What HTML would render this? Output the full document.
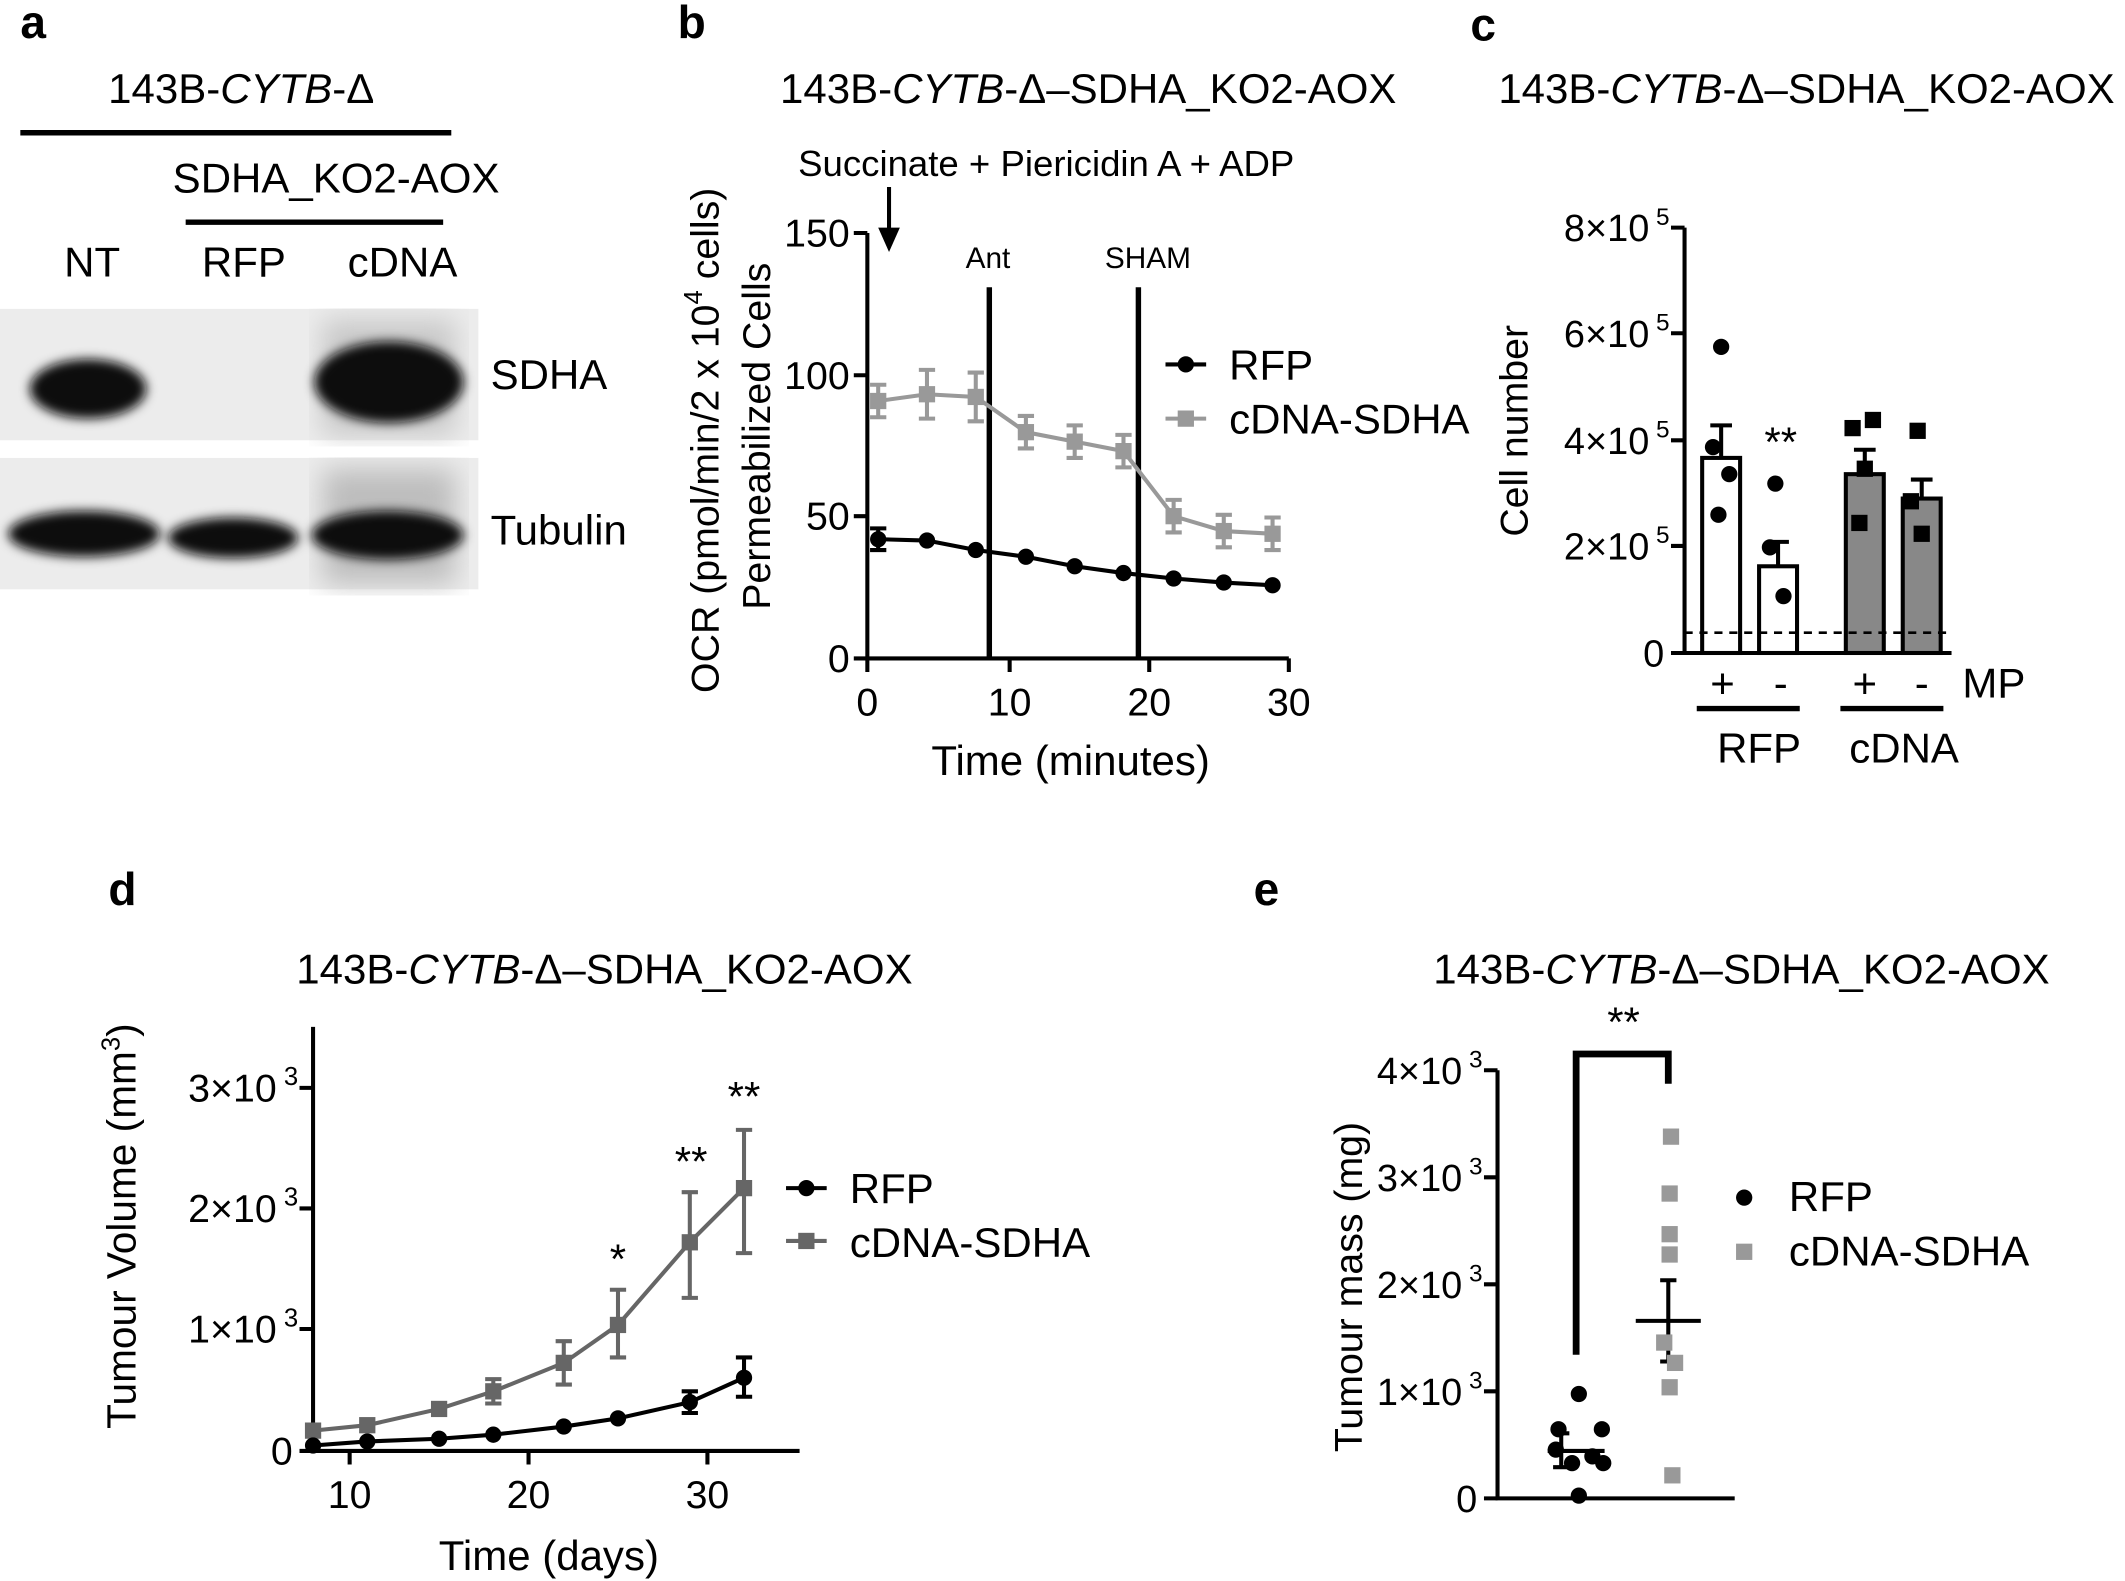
<!DOCTYPE html>
<html><head><meta charset="utf-8"><style>
html,body{margin:0;padding:0;background:#fff;}
svg{display:block;}
text{font-family:"Liberation Sans",Arial,sans-serif;fill:#000;}
</style></head><body>
<svg width="2125" height="1581" viewBox="0 0 1568 1167" preserveAspectRatio="none" xmlns="http://www.w3.org/2000/svg">
<defs><filter id="bl" x="-20%" y="-40%" width="140%" height="180%"><feGaussianBlur stdDeviation="4"/></filter>
<filter id="bl2"><feGaussianBlur stdDeviation="10"/></filter></defs>
<!-- panel letters -->
<g font-size="34" font-weight="bold">
<text x="15" y="28">a</text><text x="500" y="28">b</text><text x="1085" y="30">c</text>
<text x="80" y="668">d</text><text x="925" y="668">e</text></g>

<!-- panel a -->
<g font-size="31">
<text x="178" y="76" text-anchor="middle">143B-<tspan font-style="italic">CYTB</tspan>-Δ</text>
<line x1="15" y1="98" x2="333" y2="98" stroke="#000" stroke-width="4"/>
<text x="248" y="142" text-anchor="middle">SDHA_KO2-AOX</text>
<line x1="137" y1="164" x2="327" y2="164" stroke="#000" stroke-width="4"/>
<text x="68" y="204" text-anchor="middle">NT</text>
<text x="180" y="204" text-anchor="middle">RFP</text>
<text x="297" y="204" text-anchor="middle">cDNA</text>
<text x="362" y="287">SDHA</text>
<text x="362" y="402">Tubulin</text>
</g>
<rect x="0" y="228" width="353" height="97" fill="#ececec"/>
<rect x="0" y="338" width="353" height="97" fill="#ececec"/>
<rect x="238" y="236" width="98" height="85" fill="#c8c8c8" filter="url(#bl2)"/>
<rect x="238" y="346" width="98" height="85" fill="#bdbdbd" filter="url(#bl2)"/>
<g filter="url(#bl)" fill="#111">
<ellipse cx="65" cy="287" rx="43" ry="22"/>
<ellipse cx="287" cy="282" rx="55" ry="30"/>
<ellipse cx="62" cy="394" rx="56" ry="17"/>
<ellipse cx="172" cy="397" rx="48" ry="15"/>
<ellipse cx="286" cy="395" rx="56" ry="18"/>
</g>

<!-- panel b -->
<g font-size="31">
<text x="803" y="76" text-anchor="middle">143B-<tspan font-style="italic">CYTB</tspan>-Δ–SDHA_KO2-AOX</text>
<text x="772" y="130" text-anchor="middle" font-size="27">Succinate + Piericidin A + ADP</text>
<text x="729" y="198" text-anchor="middle" font-size="22">Ant</text>
<text x="847" y="198" text-anchor="middle" font-size="22">SHAM</text>
<text x="790" y="572" text-anchor="middle">Time (minutes)</text>
<text transform="translate(530,325) rotate(-90)" text-anchor="middle" font-size="29">OCR (pmol/min/2 x 10<tspan font-size="19" dy="-12">4</tspan><tspan dy="12"> cells)</tspan></text>
<text transform="translate(568,322) rotate(-90)" text-anchor="middle" font-size="29">Permeabilized Cells</text>
</g>
<line x1="656" y1="138" x2="656" y2="172" stroke="#000" stroke-width="3"/>
<polygon points="648,168 664,168 656,186" fill="#000"/>
<g stroke="#000" stroke-width="3" fill="none">
<path d="M640,172 V486 H951"/>
<path d="M630,172H640M630,277H640M630,381H640M630,486H640M640,486V496M745,486V496M848,486V496M951,486V496"/>
<line x1="730" y1="212" x2="730" y2="486" stroke-width="4"/>
<line x1="840" y1="212" x2="840" y2="486" stroke-width="4"/>
</g>
<g font-size="29" text-anchor="end"><text x="627" y="182">150</text><text x="627" y="287">100</text><text x="627" y="391">50</text><text x="627" y="496">0</text></g>
<g font-size="29" text-anchor="middle"><text x="640" y="528">0</text><text x="745" y="528">10</text><text x="848" y="528">20</text><text x="951" y="528">30</text></g>
<g stroke="#999" stroke-width="3" fill="none">
<polyline points="648,296 684,291 720,293 757,319 793,326 829,333 866,381 903,392 939,394"/>
<path d="M648,284V308M684,273V309M720,275V311M757,307V331M793,314V338M829,321V345M866,369V393M903,380V404M939,382V406"/>
<path d="M642,284h12M642,308h12M678,273h12M678,309h12M714,275h12M714,311h12M751,307h12M751,331h12M787,314h12M787,338h12M823,321h12M823,345h12M860,369h12M860,393h12M897,380h12M897,404h12M933,382h12M933,406h12"/>
</g>
<g fill="#999"><rect x="642" y="290" width="12" height="12"/><rect x="678" y="285" width="12" height="12"/><rect x="714" y="287" width="12" height="12"/><rect x="751" y="313" width="12" height="12"/><rect x="787" y="320" width="12" height="12"/><rect x="823" y="327" width="12" height="12"/><rect x="860" y="375" width="12" height="12"/><rect x="897" y="386" width="12" height="12"/><rect x="933" y="388" width="12" height="12"/></g>
<g stroke="#000" stroke-width="3" fill="none"><polyline points="648,398 684,399 720,406 757,411 793,418 829,423 866,427 903,430 939,432"/><path d="M648,390V406M642,390h12M642,406h12"/></g>
<g fill="#000"><circle cx="648" cy="398" r="6"/><circle cx="684" cy="399" r="6"/><circle cx="720" cy="406" r="6"/><circle cx="757" cy="411" r="6"/><circle cx="793" cy="418" r="6"/><circle cx="829" cy="423" r="6"/><circle cx="866" cy="427" r="6"/><circle cx="903" cy="430" r="6"/><circle cx="939" cy="432" r="6"/></g>
<line x1="860" y1="269" x2="890" y2="269" stroke="#000" stroke-width="3"/><circle cx="875" cy="269" r="6"/>
<line x1="860" y1="309" x2="890" y2="309" stroke="#999" stroke-width="3"/><rect x="869" y="303" width="12" height="12" fill="#999"/>
<g font-size="31"><text x="907" y="280">RFP</text><text x="907" y="320">cDNA-SDHA</text></g>

<!-- panel c -->
<g font-size="31">
<text x="1333" y="76" text-anchor="middle">143B-<tspan font-style="italic">CYTB</tspan>-Δ–SDHA_KO2-AOX</text>
<text transform="translate(1127,318) rotate(-90)" text-anchor="middle" font-size="29">Cell number</text>
<g font-size="28">
<text x="1232" y="178" text-anchor="end">8×10<tspan font-size="18" dy="-12"> 5</tspan></text>
<text x="1232" y="256" text-anchor="end">6×10<tspan font-size="18" dy="-12"> 5</tspan></text>
<text x="1232" y="335" text-anchor="end">4×10<tspan font-size="18" dy="-12"> 5</tspan></text>
<text x="1232" y="413" text-anchor="end">2×10<tspan font-size="18" dy="-12"> 5</tspan></text>
<text x="1228" y="492" text-anchor="end">0</text>
</g>
<text x="1271" y="515" text-anchor="middle">+</text><text x="1314" y="515" text-anchor="middle">-</text>
<text x="1376" y="515" text-anchor="middle">+</text><text x="1418" y="515" text-anchor="middle">-</text>
<text x="1448" y="515">MP</text>
<text x="1298" y="563" text-anchor="middle">RFP</text><text x="1405" y="563" text-anchor="middle">cDNA</text>
<text x="1314" y="337" text-anchor="middle">**</text>
</g>
<g stroke="#000" stroke-width="3">
<path d="M1243,168V482H1440" fill="none"/>
<path d="M1233,168H1243M1233,246H1243M1233,325H1243M1233,403H1243M1233,482H1243"/>
<line x1="1252" y1="523" x2="1328" y2="523" stroke-width="4"/><line x1="1358" y1="523" x2="1434" y2="523" stroke-width="4"/>
<rect x="1256" y="338" width="28" height="144" fill="#fff"/>
<rect x="1298" y="418" width="28" height="64" fill="#fff"/>
<rect x="1362" y="350" width="28" height="132" fill="#888"/>
<rect x="1404" y="368" width="28" height="114" fill="#888"/>
<path d="M1270,314V338M1262,314h16M1312,400V418M1304,400h16M1376,332V350M1368,332h16M1418,354V368M1410,354h16" fill="none"/>
</g>
<line x1="1243" y1="467" x2="1440" y2="467" stroke="#000" stroke-width="2" stroke-dasharray="6,5"/>
<g fill="#000"><circle cx="1270" cy="256" r="6"/><circle cx="1264" cy="330" r="6"/><circle cx="1276" cy="350" r="6"/><circle cx="1268" cy="380" r="6"/><circle cx="1310" cy="357" r="6"/><circle cx="1306" cy="404" r="6"/><circle cx="1316" cy="440" r="6"/>
<rect x="1361" y="310" width="12" height="12"/><rect x="1376" y="304" width="12" height="12"/><rect x="1370" y="340" width="12" height="12"/><rect x="1366" y="380" width="12" height="12"/><rect x="1409" y="312" width="12" height="12"/><rect x="1404" y="364" width="12" height="12"/><rect x="1412" y="388" width="12" height="12"/></g>

<!-- panel d -->
<g font-size="31">
<text x="446" y="726" text-anchor="middle">143B-<tspan font-style="italic">CYTB</tspan>-Δ–SDHA_KO2-AOX</text>
<text transform="translate(100,905) rotate(-90)" text-anchor="middle" font-size="30">Tumour Volume (mm<tspan font-size="19" dy="-12">3</tspan><tspan dy="12">)</tspan></text>
<g font-size="29">
<text x="220" y="813" text-anchor="end">3×10<tspan font-size="19" dy="-12"> 3</tspan></text>
<text x="220" y="902" text-anchor="end">2×10<tspan font-size="19" dy="-12"> 3</tspan></text>
<text x="220" y="991" text-anchor="end">1×10<tspan font-size="19" dy="-12"> 3</tspan></text>
<text x="216" y="1081" text-anchor="end">0</text>
<text x="258" y="1113" text-anchor="middle">10</text><text x="390" y="1113" text-anchor="middle">20</text><text x="522" y="1113" text-anchor="middle">30</text>
</g>
<text x="405" y="1159" text-anchor="middle">Time (days)</text>
<text x="456" y="940" text-anchor="middle">*</text>
<text x="510" y="868" text-anchor="middle">**</text>
<text x="549" y="820" text-anchor="middle">**</text>
<text x="627" y="888">RFP</text><text x="627" y="928">cDNA-SDHA</text>
</g>
<g stroke="#000" stroke-width="3" fill="none">
<path d="M231,758V1071H590"/>
<path d="M221,803H231M221,892H231M221,981H231M221,1071H231M258,1071V1081M390,1071V1081M522,1071V1081"/>
</g>
<g stroke="#666" stroke-width="3" fill="none">
<polyline points="231,1056 271,1052 324,1040 364,1027 416,1006 456,978 509,917 549,877"/>
<path d="M416,990V1022M410,990h12M410,1022h12M456,952V1002M450,952h12M450,1002h12M509,880V958M503,880h12M503,958h12M549,834V925M543,834h12M543,925h12M364,1018V1036M358,1018h12M358,1036h12"/>
</g>
<g fill="#666"><rect x="225" y="1050" width="12" height="12"/><rect x="265" y="1046" width="12" height="12"/><rect x="318" y="1034" width="12" height="12"/><rect x="358" y="1021" width="12" height="12"/><rect x="410" y="1000" width="12" height="12"/><rect x="450" y="972" width="12" height="12"/><rect x="503" y="911" width="12" height="12"/><rect x="543" y="871" width="12" height="12"/></g>
<g stroke="#000" stroke-width="3" fill="none"><polyline points="231,1067 271,1064 324,1062 364,1059 416,1053 456,1047 509,1035 549,1017"/>
<path d="M509,1027V1043M503,1027h12M503,1043h12M549,1002V1031M543,1002h12M543,1031h12"/></g>
<g fill="#000"><circle cx="231" cy="1067" r="6"/><circle cx="271" cy="1064" r="6"/><circle cx="324" cy="1062" r="6"/><circle cx="364" cy="1059" r="6"/><circle cx="416" cy="1053" r="6"/><circle cx="456" cy="1047" r="6"/><circle cx="509" cy="1035" r="6"/><circle cx="549" cy="1017" r="6"/></g>
<line x1="580" y1="877" x2="610" y2="877" stroke="#000" stroke-width="3"/><circle cx="595" cy="877" r="6"/>
<line x1="580" y1="916" x2="610" y2="916" stroke="#666" stroke-width="3"/><rect x="589" y="910" width="12" height="12" fill="#666"/>

<!-- panel e -->
<g font-size="31">
<text x="1285" y="726" text-anchor="middle">143B-<tspan font-style="italic">CYTB</tspan>-Δ–SDHA_KO2-AOX</text>
<text transform="translate(1005,950) rotate(-90)" text-anchor="middle" font-size="29">Tumour mass (mg)</text>
<g font-size="28">
<text x="1094" y="800" text-anchor="end">4×10<tspan font-size="18" dy="-12"> 3</tspan></text>
<text x="1094" y="879" text-anchor="end">3×10<tspan font-size="18" dy="-12"> 3</tspan></text>
<text x="1094" y="958" text-anchor="end">2×10<tspan font-size="18" dy="-12"> 3</tspan></text>
<text x="1094" y="1037" text-anchor="end">1×10<tspan font-size="18" dy="-12"> 3</tspan></text>
<text x="1090" y="1116" text-anchor="end">0</text>
</g>
<text x="1198" y="765" text-anchor="middle">**</text>
<text x="1320" y="894">RFP</text><text x="1320" y="934">cDNA-SDHA</text>
</g>
<g stroke="#000" stroke-width="3" fill="none">
<path d="M1105,790V1106H1280"/>
<path d="M1095,790H1105M1095,869H1105M1095,948H1105M1095,1027H1105M1095,1106H1105"/>
<path d="M1163,1000V778H1231V800" stroke-width="5"/>
<path d="M1142,1071H1184M1152,1058V1083M1146,1058h12M1146,1083h12" />
</g>
<g stroke="#000" stroke-width="3"><path d="M1207,975H1255M1231,945V1005M1225,945h12M1225,1005h12"/></g>
<g fill="#000"><circle cx="1165" cy="1029" r="6"/><circle cx="1150" cy="1055" r="6"/><circle cx="1182" cy="1055" r="6"/><circle cx="1148" cy="1070" r="6"/><circle cx="1175" cy="1075" r="6"/><circle cx="1160" cy="1080" r="6"/><circle cx="1183" cy="1080" r="6"/><circle cx="1165" cy="1104" r="6"/><circle cx="1287" cy="884" r="6"/></g>
<g fill="#999"><rect x="1227" y="833" width="12" height="12"/><rect x="1226" y="875" width="12" height="12"/><rect x="1226" y="905" width="12" height="12"/><rect x="1226" y="920" width="12" height="12"/><rect x="1222" y="985" width="12" height="12"/><rect x="1230" y="1000" width="12" height="12"/><rect x="1226" y="1018" width="12" height="12"/><rect x="1228" y="1083" width="12" height="12"/><rect x="1281" y="918" width="12" height="12"/></g>
</svg>
</body></html>
